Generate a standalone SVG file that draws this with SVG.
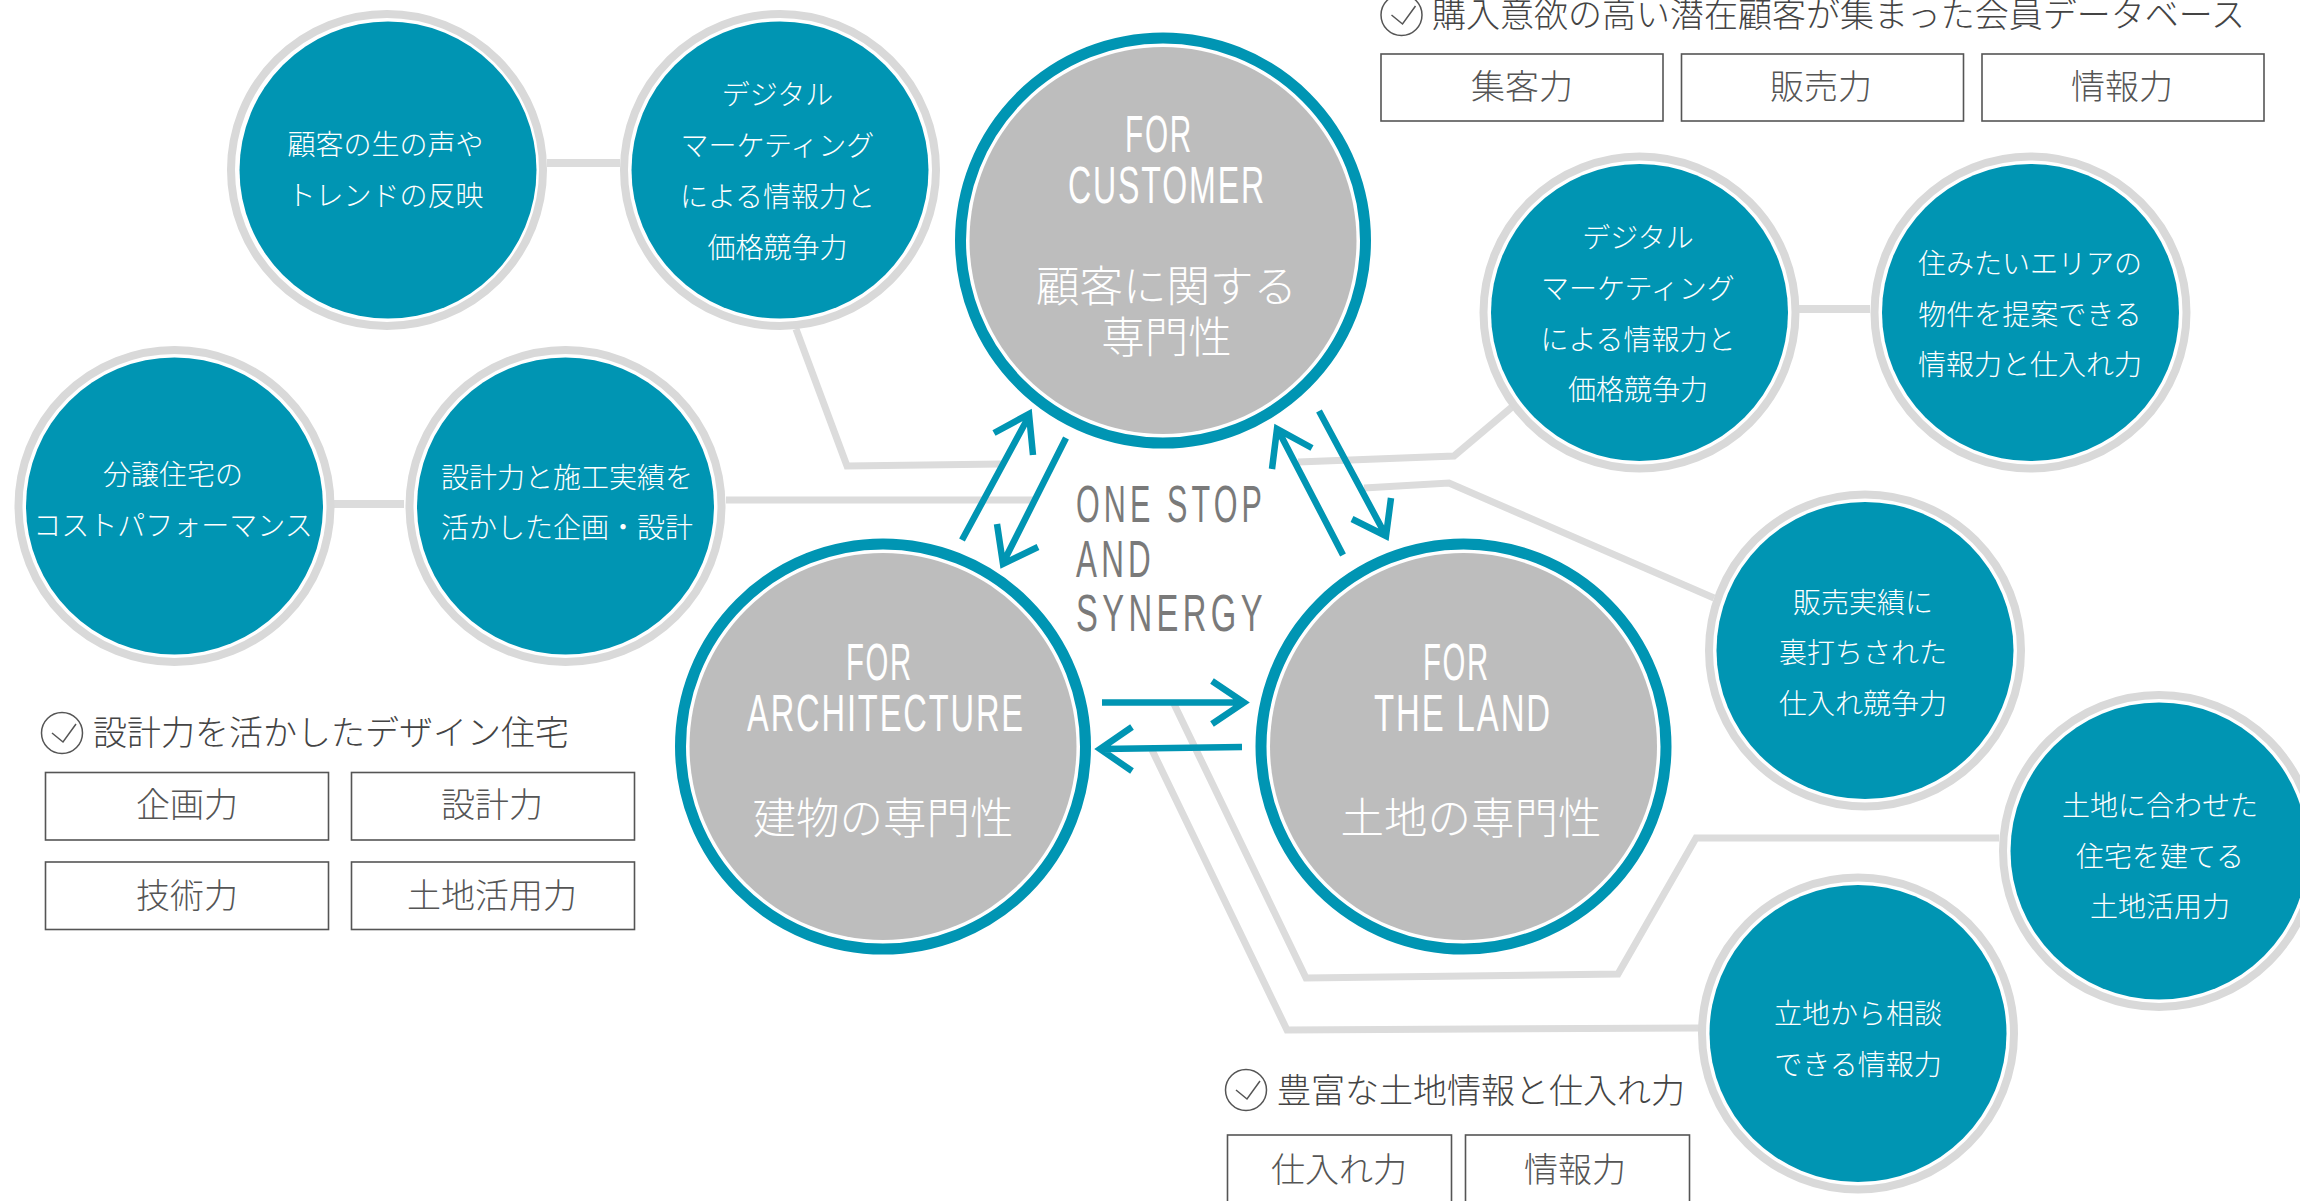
<svg xmlns="http://www.w3.org/2000/svg" width="2300" height="1201" viewBox="0 0 2300 1201">
<style>
text{font-family:"Noto Sans CJK JP","Noto Sans",sans-serif;font-weight:300}
.s text,.b text.j{fill:#fff;text-anchor:middle}
.s text{font-size:28px}
.ring{fill:#fff;stroke:#d9d9d9;stroke-width:8}
.fill{fill:#0095b3}
.bring{fill:#fff;stroke:#0095b3;stroke-width:11}
.bfill{fill:#bdbdbd}
.b text.j{font-size:43.5px}
.e{font-family:"Liberation Sans Narrow","Liberation Sans",sans-serif;font-weight:400;font-size:52px;fill:#fff;letter-spacing:3px}
.os{fill:#7a7a7a;letter-spacing:7px}
.line{fill:none;stroke:#dcdcdc;stroke-width:7}
.thick{stroke-width:8}
.arr{fill:none;stroke:#0095b3;stroke-width:6.5;stroke-miterlimit:6}
.box{fill:#fff;stroke:#555;stroke-width:1.6}
.bt{font-size:34px;fill:#555;text-anchor:middle}
.hd{font-size:34px;fill:#444}
.ck{fill:none;stroke:#555;stroke-width:1.5}
</style>
<defs>
<g id="check"><circle class="ck" r="20.5"/><path class="ck" d="M-10 0L1 9L14 -9"/></g>
</defs>
<rect width="2300" height="1201" fill="#fff"/>
<g id="connectors">
<path class="line thick" d="M547 163H620"/>
<path class="line thick" d="M334 504H404"/>
<path class="line thick" d="M1799 309H1870"/>
<path class="line" d="M726 500H1034"/>
<path class="line" d="M1364 488L1449 483L1714 598"/>
<path class="line" d="M796 329L847 466L1002 464"/>
<path class="line" d="M1298 462L1454 456L1512 407"/>
<path class="line" d="M1999 838L1696 838L1618 974L1306 978L1174 704"/>
<path class="line" d="M1699 1028L1287 1030L1152 750"/>
</g>
<g id="node-voice" class="s"><circle class="ring" cx="387" cy="170" r="156"/><circle class="fill" cx="388" cy="170" r="148.5"/><text x="385.5" y="154.5">顧客の生の声や</text><text x="385.5" y="205.5">トレンドの反映</text></g>
<g id="node-digital-1" class="s"><circle class="ring" cx="780" cy="170" r="156"/><circle class="fill" cx="780" cy="170" r="148.5"/><text x="777.5" y="105">デジタル</text><text x="777.5" y="156">マーケティング</text><text x="777.5" y="207">による情報力と</text><text x="777.5" y="258">価格競争力</text></g>
<g id="node-cost" class="s"><circle class="ring" cx="174.5" cy="506" r="156"/><circle class="fill" cx="174.5" cy="506" r="148.5"/><text x="173" y="485">分譲住宅の</text><text x="173" y="536">コストパフォーマンス</text></g>
<g id="node-plan" class="s"><circle class="ring" cx="565.5" cy="506" r="156"/><circle class="fill" cx="565.5" cy="506" r="148.5"/><text x="567" y="488">設計力と施工実績を</text><text x="567" y="538">活かした企画・設計</text></g>
<g id="node-digital-2" class="s"><circle class="ring" cx="1639.5" cy="312.5" r="156"/><circle class="fill" cx="1639.5" cy="312.5" r="148.5"/><text x="1638" y="248">デジタル</text><text x="1638" y="299">マーケティング</text><text x="1638" y="349.5">による情報力と</text><text x="1638" y="400">価格競争力</text></g>
<g id="node-area" class="s"><circle class="ring" cx="2030.5" cy="312.5" r="156"/><circle class="fill" cx="2030.5" cy="312.5" r="148.5"/><text x="2030" y="274">住みたいエリアの</text><text x="2030" y="325">物件を提案できる</text><text x="2030" y="375">情報力と仕入れ力</text></g>
<g id="node-sales" class="s"><circle class="ring" cx="1865" cy="650.5" r="156"/><circle class="fill" cx="1865" cy="650.5" r="148.5"/><text x="1863" y="613">販売実績に</text><text x="1863" y="663">裏打ちされた</text><text x="1863" y="714">仕入れ競争力</text></g>
<g id="node-landuse" class="s"><circle class="ring" cx="2159" cy="851" r="156"/><circle class="fill" cx="2159" cy="851" r="148.5"/><text x="2160" y="816">土地に合わせた</text><text x="2160" y="867">住宅を建てる</text><text x="2160" y="917">土地活用力</text></g>
<g id="node-location" class="s"><circle class="ring" cx="1858" cy="1033.5" r="156"/><circle class="fill" cx="1858" cy="1033.5" r="148.5"/><text x="1858" y="1024">立地から相談</text><text x="1858" y="1075">できる情報力</text></g>
<g id="node-customer" class="b"><circle class="bring" cx="1163" cy="240.5" r="202.5"/><circle class="bfill" cx="1163" cy="240.5" r="193.5"/>
<text class="e" x="1125" y="152" textLength="68" lengthAdjust="spacingAndGlyphs">FOR</text><text class="e" x="1068" y="203" textLength="198" lengthAdjust="spacingAndGlyphs">CUSTOMER</text><text class="j" x="1166.5" y="302">顧客に関する</text><text class="j" x="1166.5" y="353">専門性</text></g>
<g id="node-architecture" class="b"><circle class="bring" cx="883" cy="746.5" r="202.5"/><circle class="bfill" cx="883" cy="746.5" r="193.5"/>
<text class="e" x="846" y="680" textLength="67" lengthAdjust="spacingAndGlyphs">FOR</text><text class="e" x="747" y="731" textLength="278" lengthAdjust="spacingAndGlyphs">ARCHITECTURE</text><text class="j" x="883" y="834">建物の専門性</text></g>
<g id="node-land" class="b"><circle class="bring" cx="1463.5" cy="746.5" r="202.5"/><circle class="bfill" cx="1463.5" cy="746.5" r="193.5"/>
<text class="e" x="1423" y="680" textLength="67" lengthAdjust="spacingAndGlyphs">FOR</text><text class="e" x="1374" y="731" textLength="178" lengthAdjust="spacingAndGlyphs">THE LAND</text><text class="j" x="1471" y="834">土地の専門性</text></g>
<g id="center-label"><text class="e os" x="1076" y="522" textLength="190" lengthAdjust="spacingAndGlyphs">ONE STOP</text><text class="e os" x="1076" y="577" textLength="79" lengthAdjust="spacingAndGlyphs">AND</text><text class="e os" x="1076" y="631" textLength="191" lengthAdjust="spacingAndGlyphs">SYNERGY</text></g>
<g id="arrows">
<path class="arr" d="M962 540L1029 416M994 433L1029 414L1033 455"/>
<path class="arr" d="M1066 438L1003 563M997 524L1003 564L1038 547"/>
<path class="arr" d="M1343 555L1278 430M1272 469L1277 429L1312 448"/>
<path class="arr" d="M1319 411L1385 534M1391 498L1386 536L1352 519"/>
<path class="arr" d="M1102 702.5H1242M1212 681L1244 702.5L1212 724"/>
<path class="arr" d="M1242 747L1102 749M1132 727L1100 749L1132 771"/>
</g>
<g id="panel-customer"><use href="#check" x="1401.5" y="15"/><text class="hd" x="1432" y="27">購入意欲の高い潜在顧客が集まった会員データベース</text>
<rect class="box" x="1381" y="54" width="282" height="67"/><text class="bt" x="1522" y="99">集客力</text>
<rect class="box" x="1681.5" y="54" width="282" height="67"/><text class="bt" x="1821" y="99">販売力</text>
<rect class="box" x="1982" y="54" width="282" height="67"/><text class="bt" x="2122" y="99">情報力</text></g>
<g id="panel-architecture"><use href="#check" x="62" y="733"/><text class="hd" x="93" y="745">設計力を活かしたデザイン住宅</text>
<rect class="box" x="45.5" y="772.5" width="283" height="67.5"/><text class="bt" x="187" y="817">企画力</text>
<rect class="box" x="351.5" y="772.5" width="283" height="67.5"/><text class="bt" x="492" y="817">設計力</text>
<rect class="box" x="45.5" y="862" width="283" height="67.5"/><text class="bt" x="187" y="907.5">技術力</text>
<rect class="box" x="351.5" y="862" width="283" height="67.5"/><text class="bt" x="492" y="907.5">土地活用力</text></g>
<g id="panel-land"><use href="#check" x="1246" y="1090"/><text class="hd" x="1277" y="1103">豊富な土地情報と仕入れ力</text>
<rect class="box" x="1227.5" y="1135" width="224" height="75"/><text class="bt" x="1339" y="1182">仕入れ力</text>
<rect class="box" x="1465.5" y="1135" width="224" height="75"/><text class="bt" x="1575" y="1182">情報力</text></g>
</svg>
